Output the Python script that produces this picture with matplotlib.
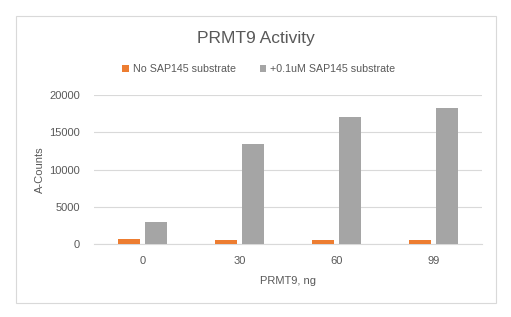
import numpy as np
import matplotlib.pyplot as plt
from matplotlib.patches import Rectangle

doses = ['0', '30', '60', '99']
no_substrate = [700, 560, 580, 600]
with_substrate = [2950, 13450, 17100, 18300]
series_names = ['No SAP145 substrate', '+0.1uM SAP145 substrate']

plt.rcParams['font.family'] = ['Liberation Sans', 'DejaVu Sans']
text_color = '#595959'

fig = plt.figure(figsize=(5.11, 3.17), dpi=100)
W, H = 511, 317

# chart border
fig.patches.append(Rectangle((16 / W, 1 - 303 / H), 480 / W, 287 / H,
                             transform=fig.transFigure, fill=False,
                             edgecolor='#d9d9d9', linewidth=0.8))

ax = fig.add_axes([94 / W, 1 - 244 / H, 388 / W, 149 / H])

x = np.arange(len(doses))
width = 0.22
ax.bar(x - 0.14, no_substrate, width, color='#ed7d31', label=series_names[0], zorder=3)
ax.bar(x + 0.14, with_substrate, width, color='#a5a5a5', label=series_names[1], zorder=3)

ax.set_xlim(-0.5, len(doses) - 0.5)
ax.set_ylim(0, 20000)
ax.set_yticks([0, 5000, 10000, 15000, 20000])
ax.set_xticks(x)
ax.set_xticklabels(doses)
ax.grid(axis='y', color='#d9d9d9', linewidth=0.8, zorder=0)
for s in ['top', 'right', 'left']:
    ax.spines[s].set_visible(False)
ax.spines['bottom'].set_color('#d9d9d9')
ax.tick_params(length=0, labelsize=8, colors=text_color)
ax.tick_params(axis='x', pad=9)
ax.tick_params(axis='y', pad=10)

ax.set_ylabel('A-Counts', fontsize=8, color=text_color, labelpad=3)
ax.set_xlabel('PRMT9, ng', fontsize=8, color=text_color, labelpad=7)

fig.text(256 / W, 1 - 39 / H, 'PRMT9 Activity', ha='center', va='center',
         fontsize=12.5, color=text_color)
fig.legend(loc='center', bbox_to_anchor=(259 / W, 1 - 69 / H), ncol=2,
           frameon=False, fontsize=7.7, handlelength=0.6, handleheight=0.6,
           columnspacing=2.2, handletextpad=0.4, labelcolor=text_color)

fig.savefig('out.png', dpi=100)
